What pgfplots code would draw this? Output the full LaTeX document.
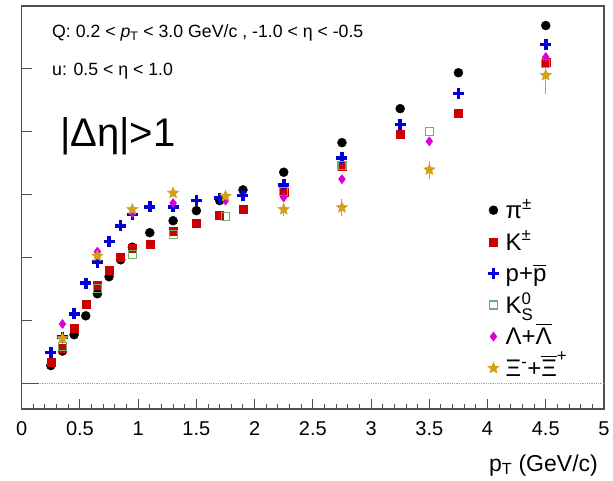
\documentclass[border=0pt]{standalone}
\usepackage{amsmath}
\usepackage{fontspec}
\setmainfont{Liberation Sans}
\usepackage{pgfplots}
\pgfplotsset{compat=1.18}

\definecolor{pionc}{RGB}{0,0,0}
\definecolor{kaonc}{RGB}{204,0,0}
\definecolor{protc}{RGB}{0,0,215}
\definecolor{kzc}{RGB}{110,175,110}
\definecolor{lamc}{RGB}{215,0,215}
\definecolor{xic}{RGB}{210,160,25}
\definecolor{framec}{RGB}{80,80,80}

% filled five-pointed star
\pgfdeclareplotmark{fullstar}{%
  \pgfpathmoveto{\pgfpointpolar{90}{\pgfplotmarksize}}%
  \pgfpathlineto{\pgfpointpolar{126}{0.45\pgfplotmarksize}}%
  \pgfpathlineto{\pgfpointpolar{162}{\pgfplotmarksize}}%
  \pgfpathlineto{\pgfpointpolar{198}{0.45\pgfplotmarksize}}%
  \pgfpathlineto{\pgfpointpolar{234}{\pgfplotmarksize}}%
  \pgfpathlineto{\pgfpointpolar{270}{0.45\pgfplotmarksize}}%
  \pgfpathlineto{\pgfpointpolar{306}{\pgfplotmarksize}}%
  \pgfpathlineto{\pgfpointpolar{342}{0.45\pgfplotmarksize}}%
  \pgfpathlineto{\pgfpointpolar{18}{\pgfplotmarksize}}%
  \pgfpathlineto{\pgfpointpolar{54}{0.45\pgfplotmarksize}}%
  \pgfpathclose
  \pgfusepathqfillstroke}

\begin{document}
\begin{tikzpicture}
\useasboundingbox (-21.7pt,-71pt) rectangle (591.3pt,409pt);
\begin{axis}[
  at={(0pt,0pt)}, anchor=south west,
  scale only axis, width=582.3pt, height=403pt,
  xmin=0, xmax=5, ymin=-0.4, ymax=6.0,
  axis line style={framec, line width=1.2pt},
  xtick={0,0.5,...,5},
  xticklabels={0,0.5,1,1.5,2,2.5,3,3.5,4,4.5,5},
  minor x tick num=4,
  ytick={0,1,2,3,4,5}, yticklabels={},
  xtick pos=bottom, ytick pos=left,
  tick align=inside,
  major tick length=10pt, minor tick length=5pt,
  every tick/.style={framec, line width=1pt},
  xticklabel style={font=\fontsize{20}{24}\selectfont, yshift=-9pt},
  legend cell align=left,
  legend style={at={(axis description cs:0.8,0.5330)}, anchor=north west,
    draw=none, fill=none, inner sep=0pt, row sep=0pt,
    font=\fontsize{24}{28}\selectfont,
    nodes={inner sep=0pt, inner xsep=6.5pt, text height=24pt, text depth=7.6pt}},
]
% zero line
\addplot[forget plot, gray!70, densely dotted, line width=0.8pt] coordinates {(0,0) (5,0)};
\addplot[forget plot, framec, line width=1pt] coordinates {(0,0) (0.146,0)};

% pi+-
\addplot[only marks, mark=*, mark size=4.5pt, color=pionc] coordinates {
(0.25,0.29)(0.35,0.52)(0.45,0.78)(0.55,1.08)(0.65,1.43)(0.75,1.70)(0.85,1.97)(0.95,2.17)
(1.1,2.40)(1.3,2.59)(1.5,2.75)(1.7,2.91)(1.9,3.08)(2.25,3.36)(2.75,3.83)(3.25,4.37)
(3.75,4.94)(4.5,5.69)};
\addlegendentry{π\textsuperscript{±}}

% K+-
\addplot[only marks, mark=square*, mark size=4pt, color=kaonc] coordinates {
(0.25,0.34)(0.35,0.56)(0.45,0.89)(0.55,1.27)(0.65,1.57)(0.75,1.81)(0.85,2.01)(0.95,2.15)
(1.1,2.22)(1.3,2.42)(1.5,2.55)(1.7,2.67)(1.9,2.78)(2.25,3.04)(2.75,3.45)(3.25,3.96)
(3.75,4.29)(4.5,5.10)};
\addlegendentry{K\textsuperscript{±}}

% p + pbar
\addplot[only marks, mark=+, mark size=5.5pt, color=protc, mark options={line width=3.6pt}] coordinates {
(0.25,0.50)(0.35,0.74)(0.45,1.11)(0.55,1.60)(0.65,1.93)(0.75,2.26)(0.85,2.51)(0.95,2.69)
(1.1,2.81)(1.3,2.81)(1.5,2.91)(1.7,2.95)(1.9,2.99)(2.25,3.16)(2.75,3.59)(3.25,4.12)
(3.75,4.61)(4.5,5.39)};
\addlegendentry{p+$\overline{\text{p}}$}

% K0S
\addplot[only marks, mark=square, mark size=4pt, color=kzc, mark options={line width=1.1pt}] coordinates {
(0.35,0.59)(0.65,1.51)(0.95,2.06)(1.3,2.37)(1.75,2.66)(2.25,3.05)(2.75,3.47)(3.5,4.00)(4.5,5.08)};
\addlegendentry{K$^{\text{0}}_{\text{S}}$}

% Lambda + Lambdabar
\addplot[only marks, mark=diamond*, mark size=4.6pt, color=lamc] coordinates {
(0.35,0.95)(0.65,2.10)(0.95,2.71)(1.3,2.87)(1.75,2.91)(2.25,2.96)(2.75,3.25)(3.5,3.85)(4.5,5.19)};
\addlegendentry{Λ+$\overline{\text{Λ}}$}

% Xi- + Xibar+
\addplot[only marks, mark=fullstar, mark size=6pt, color=xic,
  error bars/.cd, y dir=both, y explicit,
  error bar style={xic, line width=1pt}, error mark=none] coordinates {
(0.35,0.72) +- (0,0.08)
(0.65,2.03) +- (0,0.06)
(0.95,2.77) +- (0,0.06)
(1.3,3.03) +- (0,0.06)
(1.75,2.98) +- (0,0.06)
(2.25,2.77) +- (0,0.10)
(2.75,2.80) +- (0,0.14)
(3.5,3.40) +- (0,0.14)
(4.5,4.90) +- (0,0.29)};
\addlegendentry{Ξ$^{\text{-}}$+$\overline{\text{Ξ}}^{\text{+}}$}
\end{axis}

% annotations
\node[anchor=base west, inner sep=0pt, font=\fontsize{17.7}{21}\selectfont] at (30.3pt,371pt)
  {Q: 0.2 < \textit{p}$_{\text{T}}$ < 3.0 GeV/c , -1.0 < η < -0.5};
\node[anchor=base west, inner sep=0pt, font=\fontsize{17.7}{21}\selectfont] at (30.3pt,333pt)
  {u: 0.5 < η < 1.0};
\node[anchor=base west, inner sep=0pt, font=\fontsize{40}{46}\selectfont] at (38.3pt,262pt)
  {|Δη|>1};
\node[anchor=base east, inner sep=0pt, font=\fontsize{23}{27}\selectfont] at (576.3pt,-62pt)
  {p$_{\text{T}}$ (GeV/c)};
\end{tikzpicture}
\end{document}
